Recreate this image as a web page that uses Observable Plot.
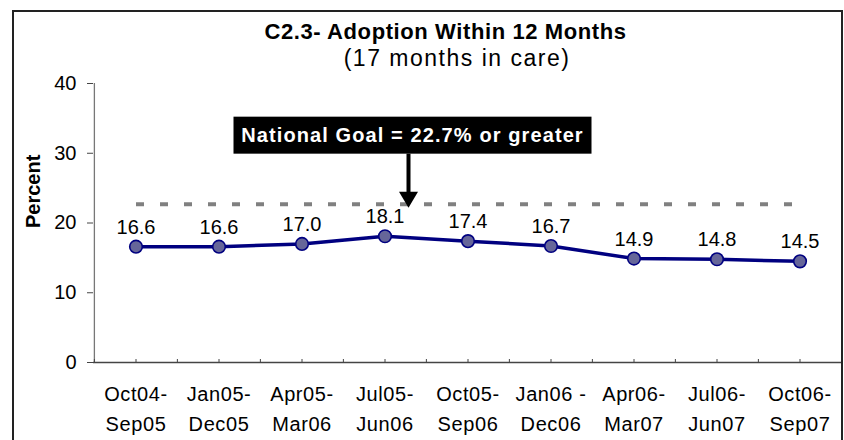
<!DOCTYPE html>
<html>
<head>
<meta charset="utf-8">
<script src="https://cdn.jsdelivr.net/npm/d3@7"></script>
<script src="https://cdn.jsdelivr.net/npm/@observablehq/plot@0.6"></script>
<style>
  html, body { margin: 0; padding: 0; background: #fff; }
  #wrap { position: relative; width: 844px; height: 440px; overflow: hidden; font-family: "Liberation Sans", Arial, sans-serif; }
  #border { position: absolute; left: 12px; top: 10px; width: 827px; height: 460px; border: 2px solid #222; pointer-events: none; }
  #wrap svg { position: absolute; left: 0; top: 0; }
</style>
</head>
<body>
<div id="wrap"><div id="border"></div></div>
<script>
// ---- data ----
const periodStart = ["Oct04-", "Jan05-", "Apr05-", "Jul05-", "Oct05-", "Jan06 -", "Apr06-", "Jul06-", "Oct06-"];
const periodEnd   = ["Sep05", "Dec05", "Mar06", "Jun06", "Sep06", "Dec06", "Mar07", "Jun07", "Sep07"];
const percent     = [16.6, 16.6, 17.0, 18.1, 17.4, 16.7, 14.9, 14.8, 14.5];
const yTicks      = [0, 10, 20, 30, 40];
const goal        = 22.7;
const goalText    = "National Goal = 22.7% or greater";
const titleText   = "C2.3- Adoption Within 12 Months";
const subtitleText = "(17 months in care)";
const yLabel      = "Percent";

const periods = periodStart.map((s, i) => s + "\n" + periodEnd[i]);
const data = periods.map((p, i) => ({period: p, value: percent[i]}));
const goalSpan = [periods[0], periods[periods.length - 1]].map(p => ({period: p, value: goal}));

// ---- layout ----
const W = 844, H = 440;
const mt = 83, mb = 78, ml = 93, mr = 2;
const bw = (W - ml - mr) / periods.length;
const font = "Liberation Sans, Arial, sans-serif";

// annotation drawn with the plot's own scales
function goalNote(index, scales) {
  const {x, y} = scales;
  const ax = x(periods[3]) + x.bandwidth() / 2 + 24;
  const gy = y(goal);
  const g = d3.create("svg:g");
  const boxW = 358, boxH = 37;
  const boxBottom = gy - 50;
  const boxCx = ax + 4;
  g.append("rect")
    .attr("x", boxCx - boxW / 2).attr("y", boxBottom - boxH)
    .attr("width", boxW).attr("height", boxH).attr("fill", "#000");
  g.append("text")
    .attr("x", boxCx).attr("y", boxBottom - 12)
    .attr("text-anchor", "middle").attr("fill", "#fff")
    .attr("font-family", font).attr("font-weight", "bold")
    .attr("font-size", 20).attr("letter-spacing", 1.1)
    .text(goalText);
  g.append("rect")
    .attr("x", ax - 2).attr("y", boxBottom)
    .attr("width", 4).attr("height", gy + 4 - 16 - boxBottom + 1).attr("fill", "#000");
  g.append("path")
    .attr("d", `M${ax - 9.5},${gy + 4 - 16} L${ax + 9.5},${gy + 4 - 16} L${ax},${gy + 4} Z`)
    .attr("fill", "#000");
  return g.node();
}

const chart = Plot.plot({
  width: W,
  height: H,
  marginTop: mt,
  marginBottom: mb,
  marginLeft: ml,
  marginRight: mr,
  style: {fontFamily: font, fontSize: "20px", color: "#000", background: "transparent", overflow: "visible"},
  x: {type: "band", domain: periods, padding: 0, axis: null},
  y: {domain: [0, 40], axis: null},
  marks: [
    // title and subtitle
    Plot.text([titleText], {frameAnchor: "top", dx: -22.5, dy: -45, lineAnchor: "bottom",
      fontWeight: "bold", fontSize: 22, fill: "#000"}),
    Plot.text([subtitleText], {frameAnchor: "top", dx: -11, dy: -18, lineAnchor: "bottom",
      fontSize: 23, fill: "#000"}),
    // y axis title
    Plot.text([yLabel], {frameAnchor: "left", dx: -60, dy: 5, rotate: -90,
      fontWeight: "bold", fontSize: 20, fill: "#000"}),
    // y axis
    Plot.axisY({ticks: yTicks, tickSize: 6, tickPadding: 11, fontSize: 20, stroke: "#444",
      label: null, tickFormat: d3.format("d")}),
    Plot.ruleX([periods[0]], {x: d => d, dx: -bw / 2, y1: 0, y2: 40, stroke: "#777", strokeWidth: 1.3}),
    // x axis
    Plot.ruleY([0], {stroke: "#444", strokeWidth: 1.3}),
    Plot.ruleX(periods, {x: d => d, y1: 0, y2: 0, insetBottom: 3, stroke: "#444"}),
    Plot.ruleX(periods, {x: d => d, y1: 0, y2: 0, insetBottom: 3, dx: -bw / 2, stroke: "#444"}),
    Plot.axisX({tickSize: 0, tickPadding: 17, fontSize: 20, lineHeight: 1.5, label: null}),
    // goal line (first to last period)
    Plot.lineY(goalSpan, {x: "period", y: "value", stroke: "#808080",
      strokeWidth: 4, strokeDasharray: "8,16", strokeLinecap: "butt"}),
    // series
    Plot.lineY(data, {x: "period", y: "value", stroke: "#000080", strokeWidth: 3.5}),
    Plot.dot(data, {x: "period", y: "value", r: 6.3, fill: "#666699", stroke: "#000080", strokeWidth: 1.6}),
    Plot.text(data, {x: "period", y: "value", text: d => d.value.toFixed(1), dy: -13,
      lineAnchor: "bottom", fontSize: 20, fill: "#000"}),
    goalNote
  ]
});
// letter spacing to match the reference's wide text rendering
d3.select(chart).selectAll("text").each(function () {
  const t = this.textContent;
  if (t === titleText) d3.select(this).attr("letter-spacing", 0.6);
  else if (t === subtitleText) d3.select(this).attr("letter-spacing", 1.5);
});
d3.select(chart).selectAll('g[aria-label="x-axis tick label"] text').attr("letter-spacing", 0.6);
document.getElementById("wrap").insertBefore(chart, document.getElementById("border"));
</script>
</body>
</html>
